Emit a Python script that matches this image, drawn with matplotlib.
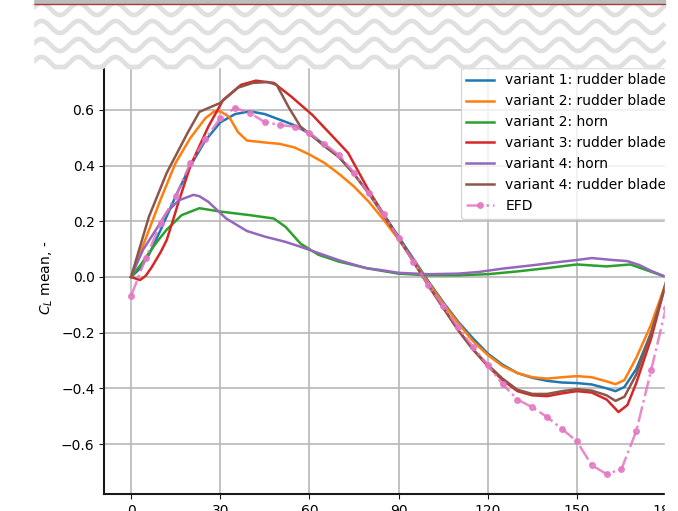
import numpy as np
import matplotlib
matplotlib.use('Agg')
import matplotlib.pyplot as plt
from matplotlib.patches import Rectangle

# rudder angle, deg
x_efd = [0, 5, 10, 15, 20, 25, 30, 35, 40, 45, 50, 55, 60, 65, 70, 75, 80, 85, 90,
         95, 100, 105, 110, 115, 120, 125, 130, 135, 140, 145, 150, 155, 160, 165,
         170, 175, 180]
cl_efd = [-0.068, 0.068, 0.195, 0.29, 0.41, 0.495, 0.57, 0.607, 0.589, 0.556, 0.546,
          0.54, 0.517, 0.478, 0.438, 0.375, 0.30, 0.225, 0.14, 0.054, -0.029, -0.104,
          -0.18, -0.25, -0.317, -0.385, -0.44, -0.468, -0.503, -0.546, -0.59, -0.676,
          -0.708, -0.69, -0.553, -0.334, -0.11]

x_v1 = [0, 3, 6, 10, 15, 20, 25, 30, 35, 40, 45, 50, 55, 60, 65, 70, 75, 80, 85, 90,
        95, 100, 105, 110, 115, 120, 125, 130, 135, 140, 145, 150, 155, 160, 163, 166,
        170, 175, 180]
cl_v1 = [0.0, 0.03, 0.08, 0.17, 0.29, 0.40, 0.49, 0.555, 0.585, 0.595, 0.585, 0.565,
         0.545, 0.515, 0.475, 0.43, 0.37, 0.30, 0.225, 0.145, 0.065, -0.015, -0.09,
         -0.16, -0.22, -0.275, -0.315, -0.345, -0.362, -0.373, -0.379, -0.381, -0.386,
         -0.40, -0.41, -0.395, -0.33, -0.20, -0.02]

x_v2b = [0, 5, 10, 15, 20, 25, 28, 30, 33, 36, 39, 45, 50, 55, 60, 65, 70, 75, 80, 85,
         90, 95, 100, 105, 110, 115, 120, 125, 130, 135, 140, 145, 150, 155, 160, 163,
         166, 170, 175, 180]
cl_v2b = [0.0, 0.14, 0.28, 0.41, 0.50, 0.57, 0.595, 0.595, 0.575, 0.52, 0.49, 0.483,
          0.478, 0.465, 0.44, 0.41, 0.37, 0.325, 0.27, 0.205, 0.135, 0.06, -0.02,
          -0.095, -0.165, -0.23, -0.28, -0.32, -0.345, -0.36, -0.365, -0.36, -0.356,
          -0.36, -0.375, -0.385, -0.37, -0.29, -0.17, -0.02]

x_v2h = [0, 3, 6, 9, 12, 17, 23, 30, 40, 48, 52, 57, 63, 70, 80, 90, 100, 110, 120,
         130, 140, 150, 160, 168, 172, 176, 180]
cl_v2h = [0.0, 0.04, 0.086, 0.13, 0.17, 0.222, 0.247, 0.235, 0.222, 0.21, 0.18, 0.12,
          0.08, 0.055, 0.03, 0.012, 0.006, 0.006, 0.01, 0.02, 0.032, 0.045, 0.038,
          0.045, 0.03, 0.015, 0.0]

x_v3 = [0, 3, 5, 7, 10, 12, 14, 16, 20, 26, 31, 37, 42, 48, 54, 61, 68, 73, 80, 85,
        90, 95, 100, 105, 110, 115, 120, 125, 130, 135, 140, 145, 150, 155, 160, 164,
        167, 170, 175, 180]
cl_v3 = [0.0, -0.011, 0.005, 0.036, 0.09, 0.133, 0.2, 0.27, 0.40, 0.54, 0.636, 0.69,
         0.705, 0.697, 0.647, 0.582, 0.503, 0.446, 0.31, 0.225, 0.14, 0.055, -0.03,
         -0.11, -0.19, -0.26, -0.32, -0.37, -0.41, -0.425, -0.428, -0.418, -0.41,
         -0.415, -0.44, -0.485, -0.46, -0.38, -0.22, -0.02]

x_v4h = [0, 4, 9, 12, 16, 21, 23, 26, 32, 39, 45, 52, 58, 63, 70, 79, 84, 90, 100, 110,
         117, 125, 135, 145, 150, 155, 162, 167, 171, 175, 180]
cl_v4h = [0.0, 0.097, 0.18, 0.232, 0.275, 0.295, 0.29, 0.27, 0.21, 0.165, 0.145,
          0.126, 0.105, 0.086, 0.06, 0.032, 0.025, 0.015, 0.01, 0.012, 0.018, 0.03,
          0.042, 0.055, 0.061, 0.068, 0.061, 0.057, 0.043, 0.022, 0.0]

x_v4b = [0, 6, 12, 19, 23, 30, 36, 41, 46, 49, 53, 57, 60, 65, 70, 75, 80, 85, 90, 95,
         100, 105, 110, 115, 120, 125, 130, 135, 140, 145, 150, 155, 160, 163, 166,
         170, 175, 180]
cl_v4b = [0.0, 0.216, 0.374, 0.517, 0.593, 0.625, 0.68, 0.697, 0.70, 0.69, 0.61, 0.54,
          0.515, 0.47, 0.43, 0.37, 0.30, 0.22, 0.14, 0.055, -0.03, -0.11, -0.19, -0.26,
          -0.315, -0.365, -0.405, -0.42, -0.42, -0.41, -0.403, -0.408, -0.425, -0.445,
          -0.43, -0.35, -0.20, -0.02]

labels = ['variant 1: rudder blade A', 'variant 2: rudder blade A',
          'variant 2: horn', 'variant 3: rudder blade A', 'variant 4: horn',
          'variant 4: rudder blade A', 'EFD']

W, H = 678, 511
fig = plt.figure(figsize=(W / 100, H / 100), dpi=100)
ax = fig.add_axes([104.3 / W, 1 - 493.8 / H, (692.8 - 104.3) / W, (493.8 - 61) / H])

series = [(x_v1, cl_v1), (x_v2b, cl_v2b), (x_v2h, cl_v2h), (x_v3, cl_v3),
          (x_v4h, cl_v4h), (x_v4b, cl_v4b)]
for (xs, ys), lab in zip(series, labels[:-1]):
    ax.plot(xs, ys, lw=1.8, label=lab)
ax.plot(x_efd, cl_efd, '-.', marker='o', ms=4, lw=1.8, color='#e377c2', alpha=0.85,
        label=labels[-1])

ax.set_xticks(np.arange(0, 181, 30))
ax.set_ylabel('$C_L$ mean, -')
ax.grid(True, color='#b8b8b8', lw=1.2)
ax.set_axisbelow(True)
for s in ['top', 'right']:
    ax.spines[s].set_visible(False)
for s in ['left', 'bottom']:
    ax.spines[s].set_linewidth(1.5)
    ax.spines[s].set_color('#1a1a1a')
ax.tick_params(labelsize=10, color='#1a1a1a')
ax.legend(loc='upper right', fontsize=10)

# page decoration around the clipped chart
ov = fig.add_axes([0, 0, 1, 1], zorder=10)
ov.set_xlim(0, W)
ov.set_ylim(H, 0)
ov.axis('off')
ov.patch.set_alpha(0)
ov.add_patch(Rectangle((0, 0), W, 67, color='white', zorder=1))
ov.add_patch(Rectangle((665, 0), W - 665, H, color='white', zorder=1))
ov.add_patch(Rectangle((33, 0), 632, 3.5, color='#bdbdbd', zorder=3))
ov.plot([33, 665], [4, 4], color='#a83a3a', lw=1.0, zorder=4)
xw = np.linspace(33, 665, 1000)
for yc in [9, 27, 45, 63]:
    yw = yc + 6.0 * np.cos(2 * np.pi * (xw - 60) / 37)
    yw = np.minimum(yw, 67)
    ov.plot(xw, yw, color='#e0e0e0', lw=3.4, zorder=2, solid_capstyle='butt')
ov.add_patch(Rectangle((0, 0), 33, 67, color='white', zorder=5))

fig.savefig('out.png', dpi=100)
